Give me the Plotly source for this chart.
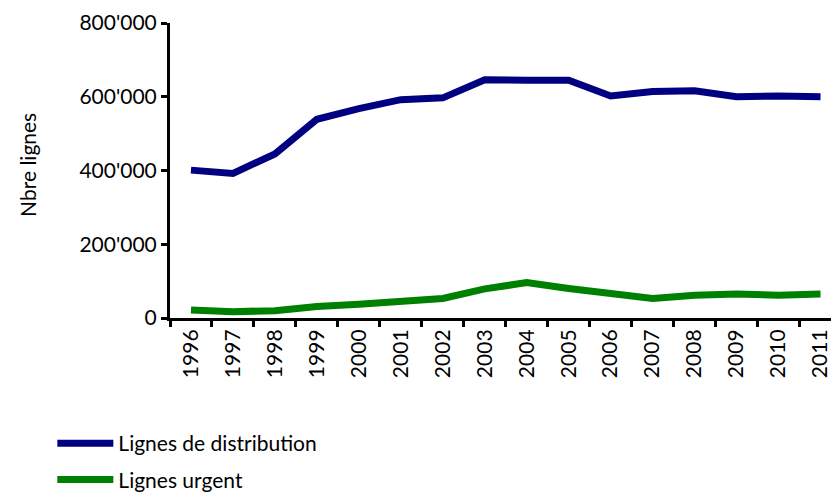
import plotly.graph_objects as go

years = [str(y) for y in range(1996, 2012)]
distribution = [401000, 392000, 445000, 539000, 568000, 592000, 597000, 646000,
                645000, 645000, 602000, 614000, 616000, 600000, 602000, 600000]
urgent = [22000, 17000, 20000, 31000, 37000, 46000, 53000, 79000,
          96000, 80000, 65000, 53000, 62000, 65000, 62000, 65000]
y_ticks = [0, 200000, 400000, 600000, 800000]
y_tick_labels = ["0", "200'000", "400'000", "600'000", "800'000"]
y_title = "Nbre lignes"

font = "Lato"
fs = 21

fig = go.Figure()
fig.add_trace(go.Scatter(x=years, y=distribution, mode="lines", name="Lignes de distribution",
                         legendgroup="a", line=dict(color="#000080", width=7)))
fig.add_trace(go.Scatter(x=years, y=urgent, mode="lines", name="Lignes urgent",
                         legendgroup="b", line=dict(color="#008000", width=7)))

fig.update_layout(
    width=831, height=492,
    margin=dict(l=170, r=0, t=23, b=174, autoexpand=False),
    plot_bgcolor="white", paper_bgcolor="white",
    font=dict(family=font, size=fs, color="black"),
    showlegend=True,
    legend=dict(x=-0.178, y=-0.356, xanchor="left", yanchor="top", orientation="v",
                font=dict(family=font, size=fs), itemwidth=56, tracegroupgap=6,
                bgcolor="rgba(0,0,0,0)"),
)
fig.add_annotation(text=y_title, xref="paper", yref="paper", x=-0.2148, y=0.519,
                   xanchor="center", yanchor="middle", textangle=-90, showarrow=False,
                   font=dict(family=font, size=fs, color="black"))
fig.update_xaxes(type="category", range=[-0.5, 15.25], tickson="boundaries",
                 automargin=False,
                 showline=True, linecolor="black", linewidth=3,
                 ticks="outside", ticklen=6, tickwidth=3, tickcolor="black",
                 tickangle=-90, showgrid=False, zeroline=False,
                 tickfont=dict(family=font, size=fs))
fig.update_yaxes(range=[0, 800000], tickvals=y_ticks, ticktext=y_tick_labels,
                 automargin=False,
                 showline=True, linecolor="black", linewidth=3,
                 ticks="outside", ticklen=6, tickwidth=3, tickcolor="black",
                 showgrid=False, zeroline=False,
                 tickfont=dict(family=font, size=fs))

fig.write_html("out.html", config={"displayModeBar": False},
               post_script="document.body.style.margin='0px';document.body.style.overflow='hidden';")
